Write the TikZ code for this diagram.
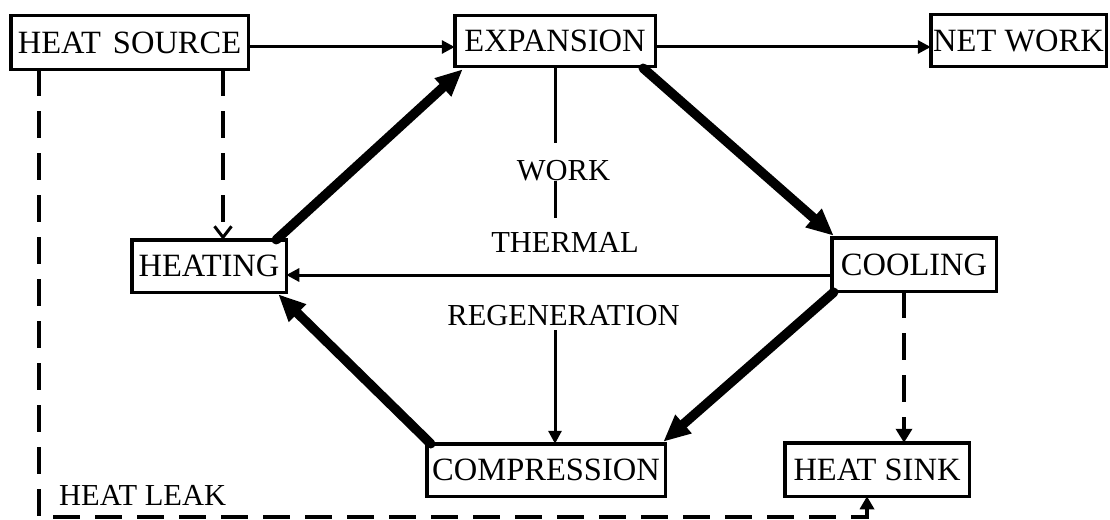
\documentclass[tikz,border=0pt]{standalone}
\usepackage{fontspec}
\setmainfont{Liberation Serif}
\usetikzlibrary{arrows.meta,calc}
\begin{document}
\begin{tikzpicture}[x=1pt,y=-1pt,
  box/.style={draw,line width=3.5pt,inner sep=0pt,outer sep=0pt,align=center,
    font=\fontsize{32.5}{36}\selectfont},
  lbl/.style={inner sep=0pt,anchor=base,font=\fontsize{30.5}{34}\selectfont},
  thin/.style={line width=3pt,-{Triangle[length=13pt,width=13pt]}},
  plain/.style={line width=3pt},
  thick/.style={line width=9.5pt,line cap=round,-{Triangle[length=27pt,width=23pt]}},
  dsh/.style={line width=4pt,dash pattern=on 27pt off 15pt}
]
\useasboundingbox (0,0) rectangle (1110,519);
% boxes
\node[box,minimum width=237.5pt,minimum height=53.5pt] (source) at (129.5,42.5) {HEAT\hspace{4pt} SOURCE};
\node[box,minimum width=200.5pt,minimum height=50.5pt] (expansion) at (555,41) {EXPANSION};
\node[box,minimum width=175.5pt,minimum height=51.5pt] (network) at (1018.5,40.5) {NET WORK};
\node[box,minimum width=154.5pt,minimum height=52.5pt] (heating) at (209,266) {HEATING};
\node[box,minimum width=164.5pt,minimum height=53.5pt] (cooling) at (914,264.5) {COOLING};
\node[box,minimum width=238.5pt,minimum height=52.5pt] (compression) at (546,470) {COMPRESSION};
\node[box,minimum width=184.5pt,minimum height=53.5pt] (heatsink) at (877,469.5) {HEAT SINK};
% labels
\node[lbl] (work) at (563.5,180) {WORK};
\node[lbl] (thermal) at (565,252) {THERMAL};
\node[lbl] (regen) at (563.5,325) {REGENERATION};
\node[lbl,anchor=base west] (leak) at (59,505) {HEAT LEAK};
% helper coordinates
\coordinate (toprow) at (0,47);
\coordinate (midrow) at (0,275);
\coordinate (leakcorner) at (39,517);
\coordinate (leakend) at (867,517);
\coordinate (hx) at (223,0);
\coordinate (cx) at (904,0);
% thin arrows
\draw[thin] (source.east |- toprow) -- (expansion.west |- toprow);
\draw[thin] (expansion.east |- toprow) -- (network.west |- toprow);
\draw[thin] (cooling.west |- midrow) -- (heating.east |- midrow);
\draw[plain] (expansion.south) -- (expansion.south |- 0,143);
\draw[plain] (expansion.south |- work.south) -- (expansion.south |- 0,218);
\draw[thin] (expansion.south |- 0,330) -- (expansion.south |- compression.north);
% thick cycle
\draw[thick] ($(heating.north east)+(-10,0)$) -- ($(expansion.south west)+(8,3)$);
\draw[thick] ($(expansion.south east)+(-12,2)$) -- ($(cooling.north west)+(2,-2)$);
\draw[thick] ($(cooling.south west)+(2,1)$) -- ($(compression.north east)+(-2,-2)$);
\draw[thick] ($(compression.north west)+(4,0)$) -- ($(heating.south east)+(-8,2)$);
% dashed
\draw[dsh,-{Straight Barb[length=11pt,width=17pt,line width=3pt]}] (source.south -| hx) -- (heating.north -| hx);
\draw[dsh,-{Triangle[length=14pt,width=16pt]}] (cooling.south -| cx) -- (heatsink.north -| cx);
\draw[dsh,-{Triangle[length=13pt,width=14pt]}] (source.south -| leakcorner) -- (leakcorner) -- (leakend) -- (heatsink.south -| leakend);
\end{tikzpicture}
\end{document}
